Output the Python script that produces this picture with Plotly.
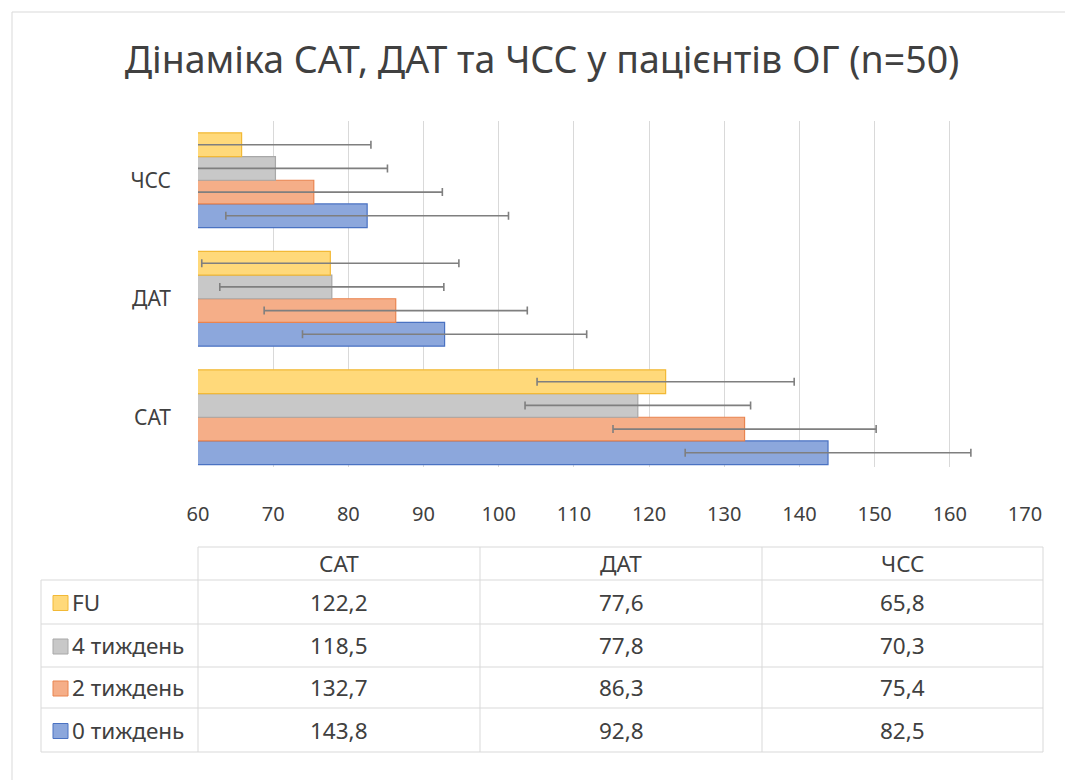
import plotly.graph_objects as go

# ---------------- data ----------------
categories = ["САТ", "ДАТ", "ЧСС"]
series_names = ["0 тиждень", "2 тиждень", "4 тиждень", "FU"]
week0 = [143.8, 92.8, 82.5]
week2 = [132.7, 86.3, 75.4]
week4 = [118.5, 77.8, 70.3]
fu = [122.2, 77.6, 65.8]
sd_week0 = [19.0, 18.9, 18.8]
sd_week2 = [17.5, 17.5, 17.1]
sd_week4 = [15.0, 14.9, 14.9]
sd_fu = [17.1, 17.1, 17.2]
x_ticks = [60, 70, 80, 90, 100, 110, 120, 130, 140, 150, 160, 170]
title_text = "Дінаміка САТ, ДАТ та ЧСС у пацієнтів ОГ (n=50)"

values = [week0, week2, week4, fu]
sds = [sd_week0, sd_week2, sd_week4, sd_fu]
fills = ["#8CA7DC", "#F5AE88", "#C8C8C8", "#FFD97A"]
borders = ["#4A72C2", "#E9844F", "#A8A8A8", "#F2B936"]

W, H = 1065, 780
L, R, T, B = 198, 1025, 121, 467
FONT = "Noto Sans"
TXT = "#404040"
TBL = 22.5


def px(x):
    return (x - L) / (R - L)


def py(y):
    return (B - y) / (B - T)


fig = go.Figure()
for name, vals, sd, fc, bc in zip(series_names, values, sds, fills, borders):
    fig.add_trace(go.Bar(
        y=categories, x=vals, name=name, orientation="h",
        marker=dict(color=fc, line=dict(color=bc, width=1.2)),
        error_x=dict(type="data", array=sd, visible=True,
                     color="#7F7F7F", thickness=1.6, width=4),
    ))

shapes = []
annotations = []
LC = "#D9D9D9"


def hline(y, x0, x1):
    shapes.append(dict(type="line", xref="paper", yref="paper",
                       x0=px(x0), x1=px(x1), y0=py(y), y1=py(y),
                       line=dict(color=LC, width=1)))


def vline(x, y0, y1):
    shapes.append(dict(type="line", xref="paper", yref="paper",
                       x0=px(x), x1=px(x), y0=py(y0), y1=py(y1),
                       line=dict(color=LC, width=1)))


# outer chart frame
shapes.append(dict(type="rect", xref="paper", yref="paper",
                   x0=px(12), x1=px(1080), y0=py(12), y1=py(800),
                   line=dict(color="#D9D9D9", width=1), layer="below"))

# data table grid
row_lines = [547, 580, 624, 667, 708, 752]
col_lines = [41, 198, 480, 762, 1043]
hline(row_lines[0], col_lines[1], col_lines[-1])
for y in row_lines[1:]:
    hline(y, col_lines[0], col_lines[-1])
vline(col_lines[0], row_lines[1], row_lines[-1])
for x in col_lines[1:]:
    vline(x, row_lines[0], row_lines[-1])

# header
for i, cat in enumerate(categories):
    cx = (col_lines[i + 1] + col_lines[i + 2]) / 2
    cy = (row_lines[0] + row_lines[1]) / 2
    annotations.append(dict(xref="paper", yref="paper", x=px(cx), y=py(cy),
                            text=cat, showarrow=False, xanchor="center",
                            yanchor="middle", font=dict(family=FONT, size=TBL, color=TXT)))

# rows (FU first, 0 тиждень last)
order = [3, 2, 1, 0]
for r, si in enumerate(order):
    cy = (row_lines[r + 1] + row_lines[r + 2]) / 2
    shapes.append(dict(type="rect", xref="paper", yref="paper",
                       x0=px(53), x1=px(68), y0=py(cy - 6.5), y1=py(cy + 8.5),
                       fillcolor=fills[si], line=dict(color=borders[si], width=1)))
    annotations.append(dict(xref="paper", yref="paper", x=px(70), y=py(cy),
                            text=series_names[si], showarrow=False, xanchor="left",
                            yanchor="middle", font=dict(family=FONT, size=TBL, color=TXT)))
    for c in range(len(categories)):
        cx = (col_lines[c + 1] + col_lines[c + 2]) / 2
        txt = f"{values[si][c]:.1f}".replace(".", ",")
        annotations.append(dict(xref="paper", yref="paper", x=px(cx), y=py(cy),
                                text=txt, showarrow=False, xanchor="center",
                                yanchor="middle", font=dict(family=FONT, size=TBL, color=TXT)))

fig.update_layout(
    width=W, height=H,
    margin=dict(l=L, r=W - R, t=T, b=H - B, pad=0),
    paper_bgcolor="white", plot_bgcolor="white",
    barmode="group", bargap=0.2, bargroupgap=0,
    showlegend=False,
    title=dict(text=title_text, x=542 / W, xref="container", xanchor="center",
               y=1 - 60 / H, yref="container", yanchor="middle",
               font=dict(family=FONT, size=37.5, color=TXT)),
    font=dict(family=FONT, color=TXT),
    xaxis=dict(range=[60, 170], tickvals=x_ticks, ticktext=[str(t) for t in x_ticks],
               showgrid=True, gridcolor="#D9D9D9", gridwidth=1, zeroline=False,
               showline=False, ticks="", ticklabelstandoff=33,
               tickfont=dict(family=FONT, size=20, color=TXT), fixedrange=True),
    yaxis=dict(categoryorder="array", categoryarray=categories,
               range=[-0.42, 2.5], showgrid=False, zeroline=False, showline=False,
               ticks="", ticklabelstandoff=26,
               tickfont=dict(family=FONT, size=21, color=TXT), fixedrange=True),
    shapes=shapes, annotations=annotations,
)

fig.write_html("out.html", config={"displayModeBar": False},
               post_script="document.body.style.margin='0';document.body.style.overflow='hidden';")
